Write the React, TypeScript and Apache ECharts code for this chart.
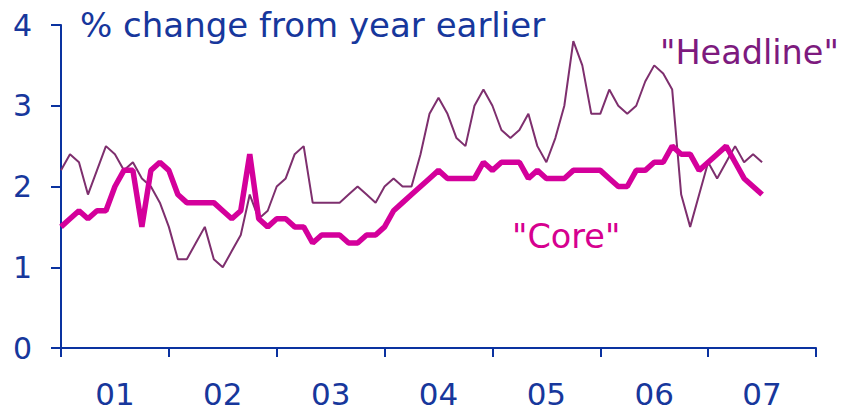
import React, { useEffect, useRef } from "react";
import * as echarts from "echarts";

const years = ["01", "02", "03", "04", "05", "06", "07"];
const yTicks = [0, 1, 2, 3, 4];

// monthly values starting Jan 2001
const headline = [
  2.2, 2.4, 2.3, 1.9, 2.2, 2.5, 2.4, 2.2, 2.3, 2.1, 2.0, 1.8,
  1.5, 1.1, 1.1, 1.3, 1.5, 1.1, 1.0, 1.2, 1.4, 1.9, 1.6, 1.7,
  2.0, 2.1, 2.4, 2.5, 1.8, 1.8, 1.8, 1.8, 1.9, 2.0, 1.9, 1.8,
  2.0, 2.1, 2.0, 2.0, 2.4, 2.9, 3.1, 2.9, 2.6, 2.5, 3.0, 3.2,
  3.0, 2.7, 2.6, 2.7, 2.9, 2.5, 2.3, 2.6, 3.0, 3.8, 3.5, 2.9,
  2.9, 3.2, 3.0, 2.9, 3.0, 3.3, 3.5, 3.4, 3.2, 1.9, 1.5, 1.9,
  2.3, 2.1, 2.3, 2.5, 2.3, 2.4, 2.3,
];
const core = [
  1.5, 1.6, 1.7, 1.6, 1.7, 1.7, 2.0, 2.2, 2.2, 1.5, 2.2, 2.3,
  2.2, 1.9, 1.8, 1.8, 1.8, 1.8, 1.7, 1.6, 1.7, 2.4, 1.6, 1.5,
  1.6, 1.6, 1.5, 1.5, 1.3, 1.4, 1.4, 1.4, 1.3, 1.3, 1.4, 1.4,
  1.5, 1.7, 1.8, 1.9, 2.0, 2.1, 2.2, 2.1, 2.1, 2.1, 2.1, 2.3,
  2.2, 2.3, 2.3, 2.3, 2.1, 2.2, 2.1, 2.1, 2.1, 2.2, 2.2, 2.2,
  2.2, 2.1, 2.0, 2.0, 2.2, 2.2, 2.3, 2.3, 2.5, 2.4, 2.4, 2.2,
  2.3, 2.4, 2.5, 2.3, 2.1, 2.0, 1.9,
];

const AXIS = "#0a32a0";
const TEXT = "#17379c";
const FONT = "DejaVu Sans, Verdana, sans-serif";

export default function App() {
  const ref = useRef<HTMLDivElement>(null);
  useEffect(() => {
    if (!ref.current) return;
    const chart = echarts.init(ref.current, null, { renderer: "svg" });
    const monthsTotal = years.length * 12;
    chart.setOption({
      animation: false,
      backgroundColor: "#ffffff",
      grid: { left: 61, right: 26, top: 25, bottom: 62 },
      xAxis: [
        {
          type: "value",
          min: 0,
          max: monthsTotal,
          interval: 12,
          axisLine: { show: true, lineStyle: { color: AXIS, width: 2 } },
          axisTick: { show: true, length: 9, lineStyle: { color: AXIS, width: 2 } },
          axisLabel: { show: false },
          splitLine: { show: false },
        },
        {
          type: "category",
          data: years,
          boundaryGap: true,
          position: "bottom",
          axisLine: { show: false },
          axisTick: { show: false },
          axisLabel: { color: TEXT, fontSize: 31, fontFamily: FONT, margin: 30 },
          splitLine: { show: false },
        },
      ],
      yAxis: {
        type: "value",
        min: yTicks[0],
        max: yTicks[yTicks.length - 1],
        interval: 1,
        axisLine: { show: true, lineStyle: { color: AXIS, width: 2 } },
        axisTick: { show: true, inside: false, length: 10, lineStyle: { color: AXIS, width: 2 } },
        axisLabel: { color: TEXT, fontSize: 30, fontFamily: FONT, margin: 29 },
        splitLine: { show: false },
      },
      graphic: [
        {
          type: "text",
          left: 80,
          top: 8,
          style: { text: "% change from year earlier", fill: TEXT, fontSize: 34, fontFamily: FONT },
        },
        {
          type: "text",
          left: 660,
          top: 35,
          style: { text: '"Headline"', fill: "#7d1a7e", fontSize: 33.5, fontFamily: FONT },
        },
        {
          type: "text",
          left: 512,
          top: 219,
          style: { text: '"Core"', fill: "#d6008f", fontSize: 33.5, fontFamily: FONT },
        },
      ],
      series: [
        {
          name: "Headline",
          type: "line",
          xAxisIndex: 0,
          data: headline.map((v, i) => [i, v]),
          symbol: "none",
          lineStyle: { color: "#7e2f6e", width: 2 },
          z: 2,
        },
        {
          name: "Core",
          type: "line",
          xAxisIndex: 0,
          data: core.map((v, i) => [i, v]),
          symbol: "none",
          lineStyle: { color: "#d4009b", width: 5.5 },
          z: 3,
        },
      ],
    });
    return () => chart.dispose();
  }, []);
  return <div ref={ref} style={{ width: 842, height: 410, position: "absolute", left: 0, top: 0 }} />;
}
